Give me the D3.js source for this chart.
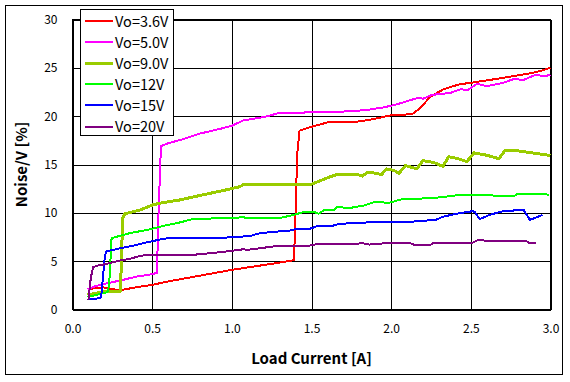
<!DOCTYPE html>
<html>
<head>
<meta charset="utf-8">
<script src="https://cdn.jsdelivr.net/npm/d3@7"></script>
<style>
  html, body { margin: 0; padding: 0; background: #fff; }
  svg { display: block; }
  text { font-family: "Noto Sans CJK KR", "Noto Sans", sans-serif; fill: #000; }
</style>
</head>
<body>
<svg id="chart" width="570" height="382"></svg>
<script>
// ---------- data ----------
const seriesNames = ["Vo=3.6V", "Vo=5.0V", "Vo=9.0V", "Vo=12V", "Vo=15V", "Vo=20V"];
const seriesColors = ["#FF0000", "#FF00FF", "#99CC00", "#00FF00", "#0000FF", "#800080"];
const seriesWidths = [2, 2, 3, 2, 2, 2];

const xTicks = [0.0, 0.5, 1.0, 1.5, 2.0, 2.5, 3.0];
const yTicks = [0, 5, 10, 15, 20, 25, 30];
const xTitle = "Load Current [A]";
const yTitle = "Noise/V [%]";

// [load current A, noise %]
const vo36 = [[0.094,2.1],[0.19,2.3],[0.25,2.1],[0.30,2.0],[0.40,2.3],[0.50,2.55],[0.60,2.9],[0.70,3.2],[0.80,3.5],[0.90,3.8],[1.00,4.1],[1.10,4.35],[1.20,4.6],[1.30,4.85],[1.39,5.1],[1.40,10.0],[1.41,16.0],[1.425,18.5],[1.50,18.9],[1.60,19.35],[1.70,19.4],[1.80,19.45],[1.89,19.7],[2.00,20.1],[2.13,20.2],[2.18,20.8],[2.245,22.0],[2.33,22.8],[2.43,23.3],[2.50,23.45],[2.62,23.75],[2.79,24.2],[2.91,24.55],[3.0,25.0]];
const vo50 = [[0.094,2.1],[0.15,2.45],[0.20,2.65],[0.30,3.0],[0.40,3.4],[0.50,3.65],[0.53,3.8],[0.54,10.0],[0.555,16.9],[0.60,17.2],[0.68,17.55],[0.80,18.2],[0.93,18.7],[1.00,19.0],[1.07,19.55],[1.20,19.9],[1.29,20.3],[1.50,20.4],[1.75,20.5],[1.85,20.65],[1.95,20.9],[2.03,21.2],[2.08,21.45],[2.17,21.9],[2.20,21.8],[2.255,22.2],[2.37,22.4],[2.44,22.8],[2.475,22.65],[2.54,23.35],[2.60,23.1],[2.705,23.45],[2.77,23.85],[2.83,23.75],[2.91,24.3],[2.96,24.1],[3.0,24.3]];
const vo90 = [[0.094,1.5],[0.15,1.7],[0.20,1.85],[0.30,1.9],[0.305,4.0],[0.315,9.5],[0.33,9.9],[0.425,10.3],[0.50,10.8],[0.55,11.0],[0.68,11.35],[0.80,11.8],[0.93,12.25],[1.05,12.7],[1.07,12.9],[1.49,12.9],[1.62,13.75],[1.66,13.97],[1.785,13.97],[1.82,13.8],[1.85,14.2],[1.90,14.1],[1.94,13.97],[1.97,14.55],[2.015,14.4],[2.05,14.1],[2.09,14.9],[2.16,14.55],[2.20,15.4],[2.27,15.2],[2.325,14.8],[2.36,15.8],[2.41,15.65],[2.475,15.3],[2.52,16.2],[2.60,15.96],[2.675,15.6],[2.715,16.45],[2.78,16.45],[2.87,16.24],[3.0,15.93]];
const vo12 = [[0.094,1.3],[0.15,1.5],[0.22,1.8],[0.23,2.5],[0.245,7.3],[0.25,7.4],[0.36,7.9],[0.47,8.24],[0.57,8.65],[0.68,9.03],[0.76,9.38],[1.00,9.45],[1.07,9.55],[1.10,9.45],[1.30,9.45],[1.39,9.8],[1.45,10.07],[1.52,10.07],[1.545,9.9],[1.575,10.24],[1.64,10.3],[1.66,10.6],[1.74,10.5],[1.83,10.76],[1.89,11.1],[1.99,11.05],[2.06,11.38],[2.14,11.38],[2.20,11.5],[2.31,11.6],[2.43,11.86],[2.63,11.86],[2.65,11.7],[2.77,11.7],[2.79,11.97],[2.97,11.97],[2.99,11.8]];
const vo15 = [[0.094,1.03],[0.17,1.17],[0.18,1.3],[0.20,5.0],[0.21,6.0],[0.30,6.34],[0.38,6.6],[0.47,6.96],[0.55,7.24],[0.60,7.38],[0.90,7.38],[1.00,7.48],[1.115,7.6],[1.157,7.83],[1.24,8.0],[1.366,8.17],[1.41,8.35],[1.49,8.35],[1.53,8.59],[1.62,8.59],[1.66,8.8],[1.74,8.93],[1.89,9.03],[2.06,9.1],[2.14,9.1],[2.28,9.28],[2.33,9.62],[2.41,9.9],[2.51,10.17],[2.525,10.1],[2.555,9.34],[2.62,9.8],[2.695,10.14],[2.81,10.3],[2.83,10.34],[2.87,9.28],[2.905,9.48],[2.95,9.8]];
const vo20 = [[0.10,1.0],[0.115,3.3],[0.13,4.4],[0.16,4.55],[0.216,4.72],[0.30,5.07],[0.36,5.24],[0.425,5.55],[0.446,5.6],[0.76,5.66],[0.93,5.93],[1.05,6.17],[1.07,6.24],[1.10,6.17],[1.26,6.52],[1.32,6.62],[1.49,6.62],[1.51,6.72],[1.785,6.8],[1.82,6.86],[1.86,6.72],[1.93,6.75],[1.95,6.86],[2.12,6.86],[2.14,6.72],[2.25,6.72],[2.27,6.93],[2.40,6.93],[2.41,6.83],[2.50,6.83],[2.54,7.14],[2.58,7.14],[2.60,7.07],[2.85,7.07],[2.86,6.93],[2.91,6.93]];

const seriesData = [vo36, vo50, vo90, vo12, vo15, vo20];

// ---------- layout ----------
const svg = d3.select("#chart");
const W = 570, H = 382;
const plot = { left: 72.5, right: 550.5, top: 19.5, bottom: 309.5 };
const labelFont = '"Noto Sans", sans-serif';

svg.append("rect").attr("width", W).attr("height", H).attr("fill", "#fff");
svg.append("rect")
  .attr("x", 5.5).attr("y", 5.5).attr("width", 557).attr("height", 369)
  .attr("fill", "#fff").attr("stroke", "#000").attr("stroke-width", 1);

const x = d3.scaleLinear().domain([0, 3]).range([plot.left, plot.right]);
const y = d3.scaleLinear().domain([0, 30]).range([plot.bottom, plot.top]);

// grid + axes
const xAxis = d3.axisBottom(x).tickValues(xTicks).tickFormat(d3.format(".1f"))
  .tickSize(-(plot.bottom - plot.top)).tickPadding(15);
const yAxis = d3.axisLeft(y).tickValues(yTicks).tickFormat(d3.format("d"))
  .tickSize(-(plot.right - plot.left)).tickPadding(15);

const gx = svg.append("g").attr("transform", `translate(0,${plot.bottom})`).call(xAxis);
const gy = svg.append("g").attr("transform", `translate(${plot.left},0)`).call(yAxis);
[gx, gy].forEach(g => {
  g.select(".domain").remove();
  g.selectAll(".tick line").attr("stroke", "#000").attr("stroke-width", 1).attr("shape-rendering", "crispEdges");
  g.selectAll(".tick text").attr("font-size", 12).attr("font-family", labelFont).attr("fill", "#111");
});

svg.append("rect")
  .attr("x", plot.left).attr("y", plot.top)
  .attr("width", plot.right - plot.left).attr("height", plot.bottom - plot.top)
  .attr("fill", "none").attr("stroke", "#000").attr("stroke-width", 1).attr("shape-rendering", "crispEdges");

// lines
const line = d3.line().x(d => x(d[0])).y(d => y(d[1]));
seriesData.forEach((data, i) => {
  svg.append("path")
    .datum(data)
    .attr("d", line)
    .attr("fill", "none")
    .attr("stroke", seriesColors[i])
    .attr("stroke-width", seriesWidths[i])
    .attr("stroke-linejoin", "round")
    .attr("shape-rendering", "crispEdges");
});

// axis titles
svg.append("text")
  .attr("x", (plot.left + plot.right) / 2).attr("y", 364)
  .attr("text-anchor", "middle").attr("font-size", 15).attr("font-weight", "bold")
  .text(xTitle);
svg.append("text")
  .attr("transform", `translate(27,${(plot.top + plot.bottom) / 2}) rotate(-90)`)
  .attr("text-anchor", "middle").attr("font-size", 15).attr("font-weight", "bold")
  .text(yTitle);

// legend
const lg = svg.append("g");
lg.append("rect")
  .attr("x", 80.5).attr("y", 9.5).attr("width", 93).attr("height", 126)
  .attr("fill", "#fff").attr("stroke", "#000").attr("stroke-width", 1).attr("shape-rendering", "crispEdges");
seriesNames.forEach((name, i) => {
  const cy = 21 + i * 21.1;
  lg.append("line")
    .attr("x1", 84.5).attr("x2", 112.5).attr("y1", cy).attr("y2", cy)
    .attr("stroke", seriesColors[i]).attr("stroke-width", seriesWidths[i])
    .attr("shape-rendering", "crispEdges");
  lg.append("text")
    .attr("x", 115).attr("y", cy + 5.5)
    .attr("font-size", 14.5).attr("font-family", labelFont)
    .text(name);
});
</script>
</body>
</html>
